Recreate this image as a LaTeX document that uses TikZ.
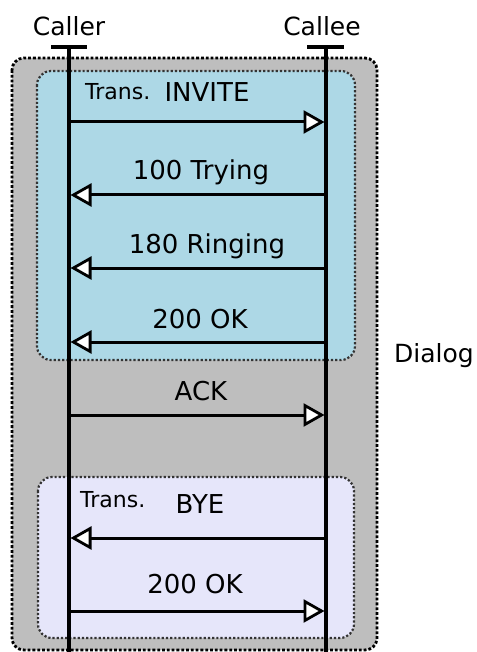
\documentclass[tikz,border=0pt]{standalone}
\usepackage{fontspec}
\setmainfont{DejaVu Sans}
\usetikzlibrary{arrows.meta,positioning}
\definecolor{dialogGray}{HTML}{BEBEBE}
\definecolor{inviteBlue}{HTML}{ADD8E6}
\definecolor{byeLavender}{HTML}{E6E6FA}
\tikzset{
  dialogbox/.style={draw=black, fill=dialogGray, line width=2.8pt, dotted, rounded corners=12pt},
  transbox/.style={draw=black!80, line width=2.2pt, dotted, rounded corners=14pt},
  lifeline/.style={line width=3.2pt, draw=black},
  msg/.style={line width=3pt, draw=black, shorten >=1.5pt,
              -{Triangle[length=21pt, width=23pt, fill=white, line width=2.8pt]}},
  party/.style={font=\fontsize{25}{28}\selectfont, anchor=base, inner sep=0pt},
  msglabel/.style={font=\fontsize{26}{30}\selectfont, anchor=base, inner sep=0pt},
  translabel/.style={font=\fontsize{22}{26}\selectfont, anchor=base west, inner sep=0pt}
}

\begin{document}
\begin{tikzpicture}[x=1pt, y=-1pt]
\useasboundingbox (0,0) rectangle (476,652);

% boxes: dialog and the two transactions
\draw[dialogbox] (12,58) rectangle (377,650);
\draw[transbox, fill=inviteBlue] (37,71) rectangle (355,360);
\draw[transbox, fill=byeLavender] (38,477) rectangle (354,638);
\node[msglabel, font=\fontsize{25}{28}\selectfont, anchor=base west] (dialog) at (394,362) {Dialog};
\node[translabel] (trans1) at (85,100) {Trans.};
\node[translabel] (trans2) at (80,507) {Trans.};

% parties and lifelines
\node[party] (callerlbl) at (69,36) {Caller};
\node[party] (calleelbl) at (322,36) {Callee};
\coordinate (caller) at (69,47);
\coordinate (callee) at (326,47);
\coordinate (callerend) at (69,652);
\coordinate (calleeend) at (326,652);
\draw[lifeline] (caller) -- (callerend);
\draw[lifeline] (callee) -- (calleeend);
\draw[lifeline] ([xshift=-18pt]caller) -- ([xshift=18pt]caller);
\draw[lifeline] ([xshift=-19pt]callee) -- ([xshift=18pt]callee);

% message rows on both lifelines
\foreach \n/\y in {invite/122, trying/195, ringing/268, ok/342, ack/415, bye/538, byeok/611}{
  \coordinate (\n-l) at (69,\y);
  \coordinate (\n-r) at (326,\y);
}

% messages
\draw[msg] (invite-l) -- (invite-r);
\draw[msg] (trying-r) -- (trying-l);
\draw[msg] (ringing-r) -- (ringing-l);
\draw[msg] (ok-r) -- (ok-l);
\draw[msg] (ack-l) -- (ack-r);
\draw[msg] (bye-r) -- (bye-l);
\draw[msg] (byeok-l) -- (byeok-r);

\node[msglabel] (invitelbl) at (207,102) {INVITE};
\node[msglabel] (tryinglbl) at (201,180) {100 Trying};
\node[msglabel] (ringinglbl) at (207,253) {180 Ringing};
\node[msglabel] (oklbl) at (200,328) {200 OK};
\node[msglabel] (acklbl) at (201,400) {ACK};
\node[msglabel] (byelbl) at (200,513) {BYE};
\node[msglabel] (byeoklbl) at (195,593) {200 OK};
\end{tikzpicture}
\end{document}
